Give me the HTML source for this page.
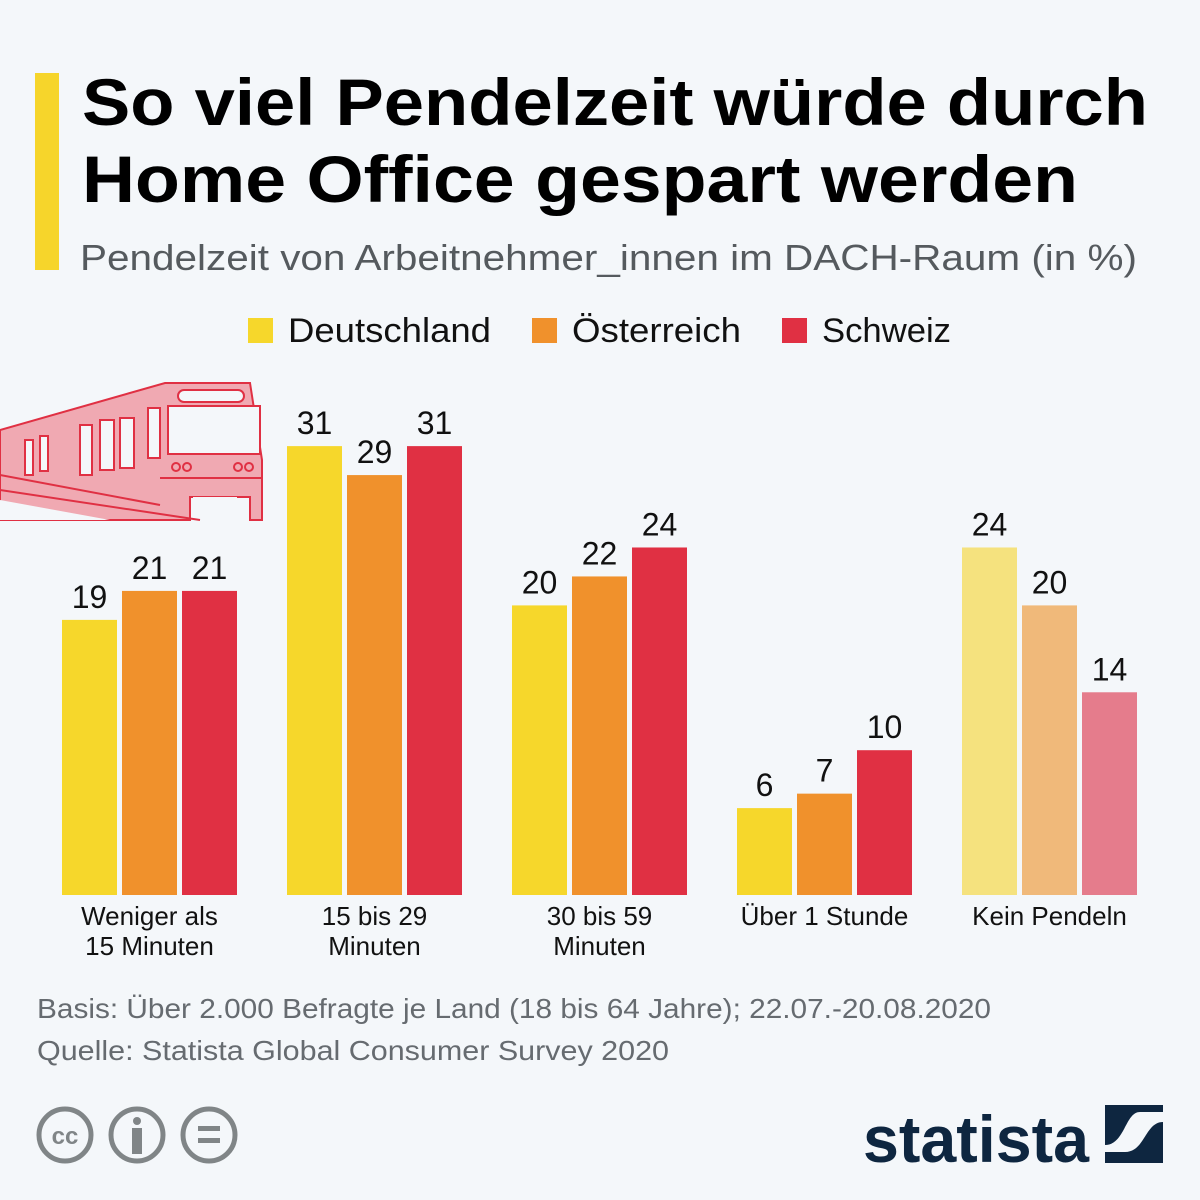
<!DOCTYPE html>
<html><head><meta charset="utf-8"><style>
html,body{margin:0;padding:0;background:#f4f7fa;}
svg{display:block;font-family:"Liberation Sans",sans-serif;}
</style></head><body>
<svg id="chart" width="1200" height="1200" viewBox="0 0 1200 1200">
<rect x="0" y="0" width="1200" height="1200" fill="#f4f7fa"/>
<rect x="35" y="73" width="24" height="197" fill="#f6d52b"/>
<text x="82" y="125" font-size="66" font-weight="bold" fill="#000" textLength="1066" lengthAdjust="spacingAndGlyphs">So viel Pendelzeit würde durch</text>
<text x="82" y="202" font-size="66" font-weight="bold" fill="#000" textLength="996" lengthAdjust="spacingAndGlyphs">Home Office gespart werden</text>
<text x="80" y="270" font-size="36" fill="#555a5e" textLength="1057" lengthAdjust="spacingAndGlyphs">Pendelzeit von Arbeitnehmer_innen im DACH-Raum (in %)</text>

<g>
<rect x="248" y="318" width="25" height="25" fill="#f6d72b"/>
<text x="288" y="342" font-size="34" fill="#111" textLength="203" lengthAdjust="spacingAndGlyphs">Deutschland</text>
<rect x="532" y="318" width="25" height="25" fill="#f0912c"/>
<text x="572" y="342" font-size="34" fill="#111" textLength="169" lengthAdjust="spacingAndGlyphs">Österreich</text>
<rect x="782" y="318" width="25" height="25" fill="#e03043"/>
<text x="822" y="342" font-size="34" fill="#111" textLength="129" lengthAdjust="spacingAndGlyphs">Schweiz</text>
</g>

<g stroke="#e03043" stroke-width="2" fill="#f0a9b2">
<polygon points="0,430 165,383 250,383 262,460 262,520 250,520 250,497 190,497 190,520 0,520"/>
<polygon points="0,500 110,520 0,520" fill="#f4f7fa" stroke="none"/>
<rect x="168" y="406" width="92" height="48" fill="#f4f7fa"/>
<rect x="178" y="390" width="66" height="12" rx="6" fill="#f4f7fa"/>
<line x1="160" y1="478" x2="262" y2="478"/>
<circle cx="176" cy="467" r="4" fill="none"/><circle cx="187" cy="467" r="4" fill="none"/>
<circle cx="238" cy="467" r="4" fill="none"/><circle cx="249" cy="467" r="4" fill="none"/>
<rect x="193" y="497" width="44" height="23" fill="#f4f7fa" stroke="none"/>
<rect x="148" y="408" width="12" height="50" fill="#f4f7fa"/>
<rect x="80" y="425" width="12" height="50" fill="#f4f7fa"/>
<rect x="100" y="420" width="14" height="50" fill="#f4f7fa"/>
<rect x="120" y="418" width="14" height="50" fill="#f4f7fa"/>
<rect x="25" y="440" width="8" height="35" fill="#f4f7fa"/>
<rect x="40" y="436" width="8" height="35" fill="#f4f7fa"/>
<line x1="0" y1="475" x2="160" y2="505"/>
<line x1="0" y1="490" x2="200" y2="520"/>
</g>

<g id="bars"></g>

<text x="37" y="1018" font-size="28" fill="#666b70" textLength="954" lengthAdjust="spacingAndGlyphs">Basis: Über 2.000 Befragte je Land (18 bis 64 Jahre); 22.07.-20.08.2020</text>
<text x="37" y="1060" font-size="28" fill="#666b70" textLength="632" lengthAdjust="spacingAndGlyphs">Quelle: Statista Global Consumer Survey 2020</text>

<g fill="none" stroke="#808587" stroke-width="5">
<circle cx="65" cy="1135" r="26"/>
<text x="65" y="1144" font-size="24" font-weight="bold" fill="#808587" stroke="none" text-anchor="middle">cc</text>
<circle cx="137" cy="1135" r="26"/>
<circle cx="137" cy="1121" r="4" fill="#808587" stroke="none"/>
<rect x="132" y="1128" width="10" height="26" fill="#808587" stroke="none"/>
<circle cx="209" cy="1135" r="26"/>
<rect x="198" y="1126" width="22" height="5" fill="#808587" stroke="none"/>
<rect x="198" y="1138" width="22" height="5" fill="#808587" stroke="none"/>
</g>
<text x="863" y="1162" font-size="66" font-weight="bold" fill="#0e2640" textLength="226" lengthAdjust="spacingAndGlyphs">statista</text>
<g>
<rect x="1105" y="1105" width="58" height="58" fill="#0e2640"/>
<path d="M1105,1145 C1125,1145 1125,1112 1140,1112 L1163,1112 L1163,1122 C1145,1122 1145,1152 1125,1152 L1105,1152 Z" fill="#f4f7fa"/>
</g>
</svg>
<script>
const categories = [["Weniger als","15 Minuten"],["15 bis 29","Minuten"],["30 bis 59","Minuten"],["Über 1 Stunde"],["Kein Pendeln"]];
const deutschland = [19, 31, 20, 6, 24];
const oesterreich = [21, 29, 22, 7, 20];
const schweiz = [21, 31, 24, 10, 14];
const seriesNames = ["deutschland","oesterreich","schweiz"];

const baseY = 895, pxPerUnit = 14.48, groupX0 = 62, groupStep = 225, barStep = 60, barW = 55;
const colors = ["#f6d72b","#f0912c","#e03043"];
const lightColors = ["#f5e27e","#f0b97a","#e57c8c"];
const y = v => baseY - v * pxPerUnit;
const NS = "http://www.w3.org/2000/svg";
const g = document.getElementById("bars");
const series = [deutschland, oesterreich, schweiz];
categories.forEach((cat, ci) => {
  const gx = groupX0 + ci * groupStep;
  series.forEach((s, si) => {
    const v = s[ci];
    const r = document.createElementNS(NS, "rect");
    r.setAttribute("x", gx + si * barStep);
    r.setAttribute("y", y(v));
    r.setAttribute("width", barW);
    r.setAttribute("height", baseY - y(v));
    r.setAttribute("fill", ci === 4 ? lightColors[si] : colors[si]);
    
    
    g.appendChild(r);
    const t = document.createElementNS(NS, "text");
    t.setAttribute("x", gx + si * barStep + barW / 2);
    t.setAttribute("y", y(v) - 12);
    t.setAttribute("text-anchor", "middle");
    t.setAttribute("font-size", "32");
    t.setAttribute("fill", "#111");
    t.textContent = v;
    
    
    g.appendChild(t);
  });
  cat.forEach((line, li) => {
    const t = document.createElementNS(NS, "text");
    t.setAttribute("x", gx + barStep + barW / 2);
    t.setAttribute("y", 925 + li * 30);
    t.setAttribute("text-anchor", "middle");
    t.setAttribute("font-size", "26");
    t.setAttribute("fill", "#111");
    t.textContent = line;
    
    
    g.appendChild(t);
  });
});
</script>
</body></html>
